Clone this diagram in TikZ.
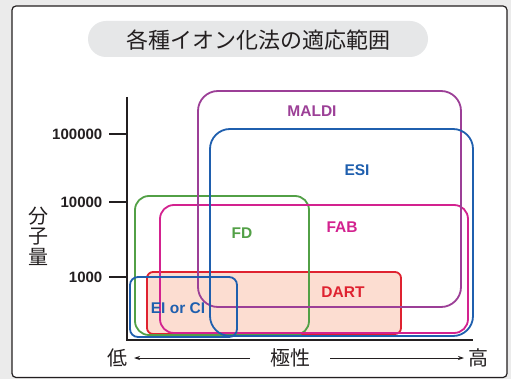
\documentclass[tikz,border=0pt]{standalone}
\usepackage{fontspec}
\setmainfont{Liberation Sans}
\newfontfamily\jp{Noto Sans CJK JP}
\usetikzlibrary{arrows.meta}
\definecolor{txt}{HTML}{231F20}
\definecolor{bgout}{HTML}{EBEBEB}
\definecolor{pill}{HTML}{E6E7E8}
\definecolor{cmaldi}{HTML}{9C3F97}
\definecolor{cesi}{HTML}{1F5FAE}
\definecolor{cfd}{HTML}{52A046}
\definecolor{cfab}{HTML}{D3228F}
\definecolor{cdart}{HTML}{DF2230}
\definecolor{fdart}{HTML}{FCDDD1}
\begin{document}
\begin{tikzpicture}[x=1pt,y=-1pt,
  rbox/.style={line width=1.8pt},
  lab/.style={font=\fontsize{15.5}{15.5}\selectfont\bfseries,inner sep=0pt},
  tick/.style={font=\fontsize{15}{15}\selectfont\bfseries,text=txt,anchor=east,inner sep=0pt},
  jptext/.style={font=\jp\fontsize{20}{20}\selectfont,text=txt,inner sep=0pt},
  axis/.style={line width=1.7pt,draw=txt}]
\useasboundingbox (0,0) rectangle (511,379);
\fill[bgout] (0,0) rectangle (511,379);
\draw[txt,line width=1.2pt,fill=white,rounded corners=4pt] (12,6) rectangle (507,377.5);
% title
\node[fill=pill,rounded corners=18pt,minimum width=340pt,minimum height=36pt,inner sep=0pt] (titlebg) at (258,39) {};
\node[jptext,font=\jp\fontsize{22}{22}\selectfont] (title) at (258,40) {各種イオン化法の適応範囲};
% boxes
\draw[rbox,cdart,fill=fdart,rounded corners=6pt] (147,272) rectangle (401,334);
\draw[rbox,cfd,rounded corners=14pt] (135,196) rectangle (309,335);
\draw[rbox,cfab,rounded corners=14pt] (160,205) rectangle (468,333);
\draw[rbox,cmaldi,rounded corners=20pt] (198,91) rectangle (461,307);
\draw[rbox,cesi,rounded corners=20pt] (210,129) rectangle (473,336);
\draw[rbox,cesi,rounded corners=8pt] (130,277) rectangle (237,337);
% labels
\node[lab,text=cmaldi] (lmaldi) at (312,111) {MALDI};
\node[lab,text=cesi] (lesi) at (357,170) {ESI};
\node[lab,text=cfd] (lfd) at (242,233) {FD};
\node[lab,text=cfab] (lfab) at (342,227) {FAB};
\node[lab,text=cdart] (ldart) at (343,292) {DART};
\node[lab,text=cesi] (lei) at (178,308) {EI or CI};
% axes
\coordinate (ytop) at (127,97);
\coordinate (orig) at (127,340);
\coordinate (xend) at (473,340);
\draw[axis] (ytop) -- (orig) -- (xend);
\foreach \y/\t/\n in {134/100000/a,202/10000/b,277/1000/c}{
  \coordinate (t\n) at (127,\y);
  \coordinate (s\n) at (109,\y);
  \draw[axis] (s\n) -- (t\n);
  \node[tick] (l\n) at (102.5,\y) {\t};
}
\node[jptext,align=center,font=\jp\fontsize{20}{20.5}\selectfont] (ylab) at (38,236) {分\\子\\量};
\node[jptext] (low) at (117,358) {低};
\node[jptext] (pol) at (290,358) {極性};
\node[jptext] (high) at (478,358) {高};
\coordinate (a1s) at (250,358);
\coordinate (a1e) at (134,358);
\coordinate (a2s) at (330,358);
\coordinate (a2e) at (464,358);
\draw[txt,line width=0.8pt,-{Stealth[length=6pt,width=4pt]}] (a1s) -- (a1e);
\draw[txt,line width=0.8pt,-{Stealth[length=6pt,width=4pt]}] (a2s) -- (a2e);
\end{tikzpicture}
\end{document}
